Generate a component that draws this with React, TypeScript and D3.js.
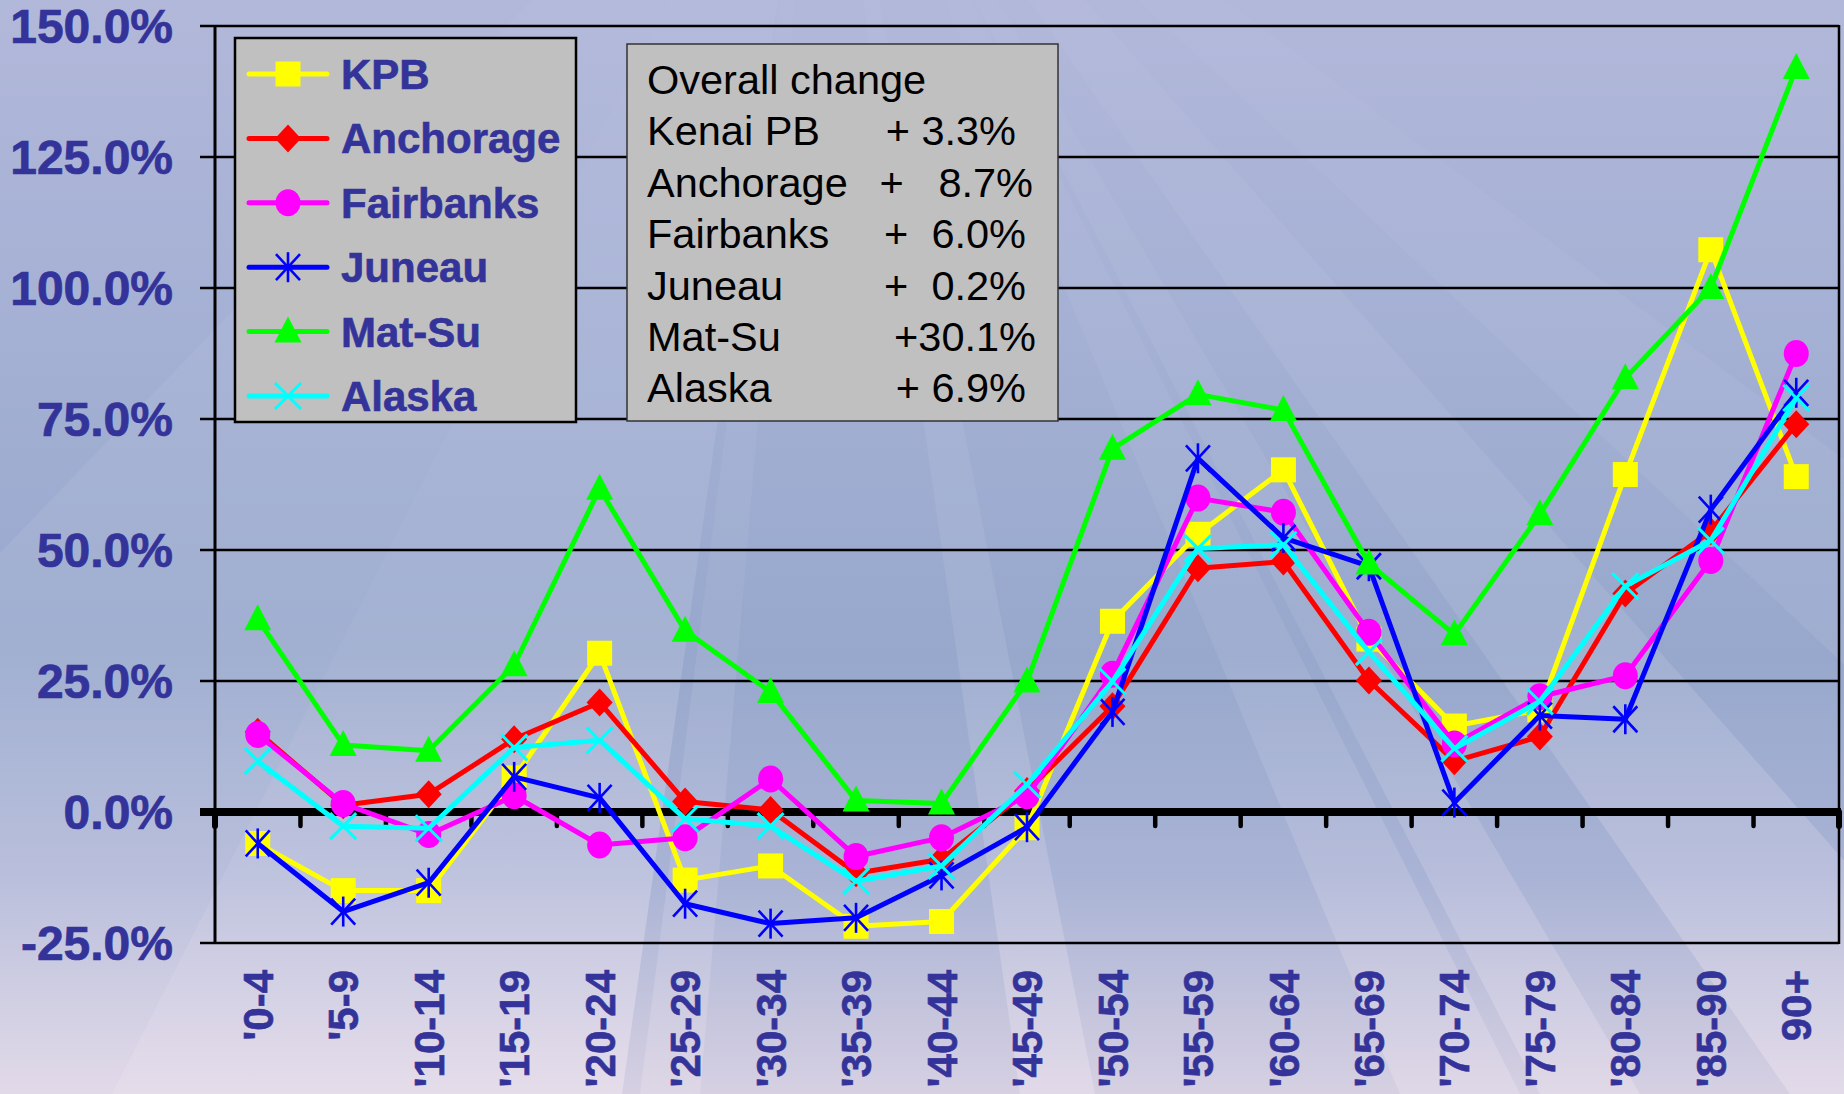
import React from 'react';
import * as d3 from 'd3';

const categories = ["'0-4", "'5-9", "'10-14", "'15-19", "'20-24", "'25-29", "'30-34", "'35-39", "'40-44", "'45-49", "'50-54", "'55-59", "'60-64", "'65-69", "'70-74", "'75-79", "'80-84", "'85-90", "90+"];

const kpb = [-6.0, -15.0, -15.0, 6.5, 30.3, -13.0, -10.3, -21.8, -20.9, -3.0, 36.4, 53.0, 65.3, 33.0, 16.4, 19.5, 64.4, 107.3, 64.0];
const anchorage = [15.3, 1.3, 3.4, 13.9, 20.9, 2.0, 0.4, -11.7, -9.0, 4.0, 20.2, 46.5, 47.8, 25.1, 9.7, 14.4, 41.7, 53.6, 74.0];
const fairbanks = [14.8, 1.6, -4.3, 3.1, -6.3, -4.9, 6.3, -8.5, -4.9, 3.1, 26.3, 59.9, 57.2, 34.3, 13.0, 22.0, 26.0, 48.0, 87.5];
const juneau = [-6.0, -19.0, -13.5, 6.7, 2.7, -17.5, -21.3, -20.2, -12.1, -2.9, 19.1, 67.5, 52.3, 46.9, 1.8, 18.4, 17.7, 57.7, 80.0];
const matsu = [36.8, 12.8, 11.7, 28.0, 61.7, 34.6, 22.9, 2.2, 1.6, 24.9, 69.3, 79.7, 76.7, 47.4, 33.9, 56.8, 82.8, 100.0, 142.0];
const alaska = [9.7, -2.7, -3.1, 12.3, 13.7, -1.3, -2.7, -13.2, -10.3, 5.2, 24.9, 50.3, 51.0, 30.5, 12.1, 21.1, 43.1, 51.8, 79.0];

const seriesNames = ["KPB", "Anchorage", "Fairbanks", "Juneau", "Mat-Su", "Alaska"];
const seriesValues = [kpb, anchorage, fairbanks, juneau, matsu, alaska];
const seriesColors = ["#ffff00", "#ff0000", "#ff00ff", "#0000ff", "#00ff00", "#00ffff"];
const seriesMarkers = ["square", "diamond", "circle", "star", "triangle", "x"];

const yTicks = [-25, 0, 25, 50, 75, 100, 125, 150];

const overallTitle = "Overall change";
const overallNames = ["Kenai PB", "Anchorage", "Fairbanks", "Juneau", "Mat-Su", "Alaska"];
const overallValues = ["+ 3.3%", "+   8.7%", "+  6.0%", "+  0.2%", "+30.1%", "+ 6.9%"];

// layout
const W = 1844, H = 1094;
const PL = 215, PR = 1839, PT = 26, PB = 943;
const LABEL_BLUE = "#333399";
const FONT = "'Liberation Sans', Arial, Helvetica, sans-serif";
const valueEndX = [1016, 1033, 1026, 1026, 1036, 1026];
const rayApex = [820, -300];
const rays: [number, number, number][] = [
  [-520, 112, 0.55], [112, 622, 0.75], [640, 700, 0.4], [1020, 1095, 0.55],
  [1400, 1520, 0.45], [1540, 1640, 0.5], [1790, 2050, 0.6], [2300, 2700, 0.45],
];

function Marker({ type, color, x, y }: { type: string; color: string; x: number; y: number }) {
  const s = 12.5;
  switch (type) {
    case 'square':
      return <rect x={x - s} y={y - s} width={2 * s} height={2 * s} fill={color} />;
    case 'diamond':
      return <path d={`M${x},${y - 14}L${x + 13},${y}L${x},${y + 14}L${x - 13},${y}Z`} fill={color} />;
    case 'circle':
      return <ellipse cx={x} cy={y} rx={12.5} ry={13.5} fill={color} />;
    case 'triangle':
      return <path d={`M${x},${y - 15}L${x + 13.5},${y + 11}L${x - 13.5},${y + 11}Z`} fill={color} />;
    case 'star':
      return (
        <g stroke={color} strokeWidth={2.6}>
          <line x1={x - 12} y1={y - 13} x2={x + 12} y2={y + 13} />
          <line x1={x - 12} y1={y + 13} x2={x + 12} y2={y - 13} />
          <line x1={x} y1={y - 15} x2={x} y2={y + 15} />
        </g>
      );
    case 'x':
    default:
      return (
        <g stroke={color} strokeWidth={3}>
          <line x1={x - 13} y1={y - 13} x2={x + 13} y2={y + 13} />
          <line x1={x - 13} y1={y + 13} x2={x + 13} y2={y - 13} />
        </g>
      );
  }
}

export default function App() {
  const xBand = d3.scaleBand<string>().domain(categories).range([PL, PR]).paddingInner(0).paddingOuter(0);
  const bw = xBand.bandwidth();
  const xc = (c: string) => (xBand(c) as number) + bw / 2;
  const y = d3.scaleLinear().domain([-25, 150]).range([PB, PT]);
  const line = d3.line<number>().x((_, i) => xc(categories[i])).y((d) => y(d));

  const y0 = y(0);
  const boundaries = d3.range(categories.length + 1).map((i) => PL + i * bw);

  const rayPolys = rays.map(([a, b, o], i) => {
    const [ax, ay] = rayApex;
    return { pts: `${ax},${ay} ${a},${H} ${b},${H}`, o, i };
  });

  const legendRowY = (i: number) => 74 + i * 64.4;
  const statRowY = (i: number) => 94 + i * 51.4;

  return (
    <svg width={W} height={H} style={{ position: 'absolute', left: 0, top: 0, display: 'block' }} xmlns="http://www.w3.org/2000/svg">
      <defs>
        <linearGradient id="bg" x1="0" y1="0" x2="0" y2="1">
          <stop offset="0" stopColor="#b2b8da" />
          <stop offset="0.35" stopColor="#a2afd3" />
          <stop offset="0.6" stopColor="#97a8cc" />
          <stop offset="0.8" stopColor="#a9b3d5" />
          <stop offset="1" stopColor="#d6d0e2" />
        </linearGradient>
        <linearGradient id="ray" gradientUnits="userSpaceOnUse" x1="0" y1="0" x2="0" y2={H}>
          <stop offset="0" stopColor="#ffffff" stopOpacity="0.04" />
          <stop offset="0.55" stopColor="#f4eef8" stopOpacity="0.16" />
          <stop offset="1" stopColor="#fff2f8" stopOpacity="0.5" />
        </linearGradient>
      </defs>
      <rect x={0} y={0} width={W} height={H} fill="url(#bg)" />
      {rayPolys.map((r) => (
        <polygon key={r.i} points={r.pts} fill="url(#ray)" opacity={r.o} />
      ))}

      {/* gridlines */}
      {yTicks.map((t) => (
        <line key={t} x1={200} x2={PR} y1={y(t)} y2={y(t)} stroke="#000" strokeWidth={t === 0 ? 0 : 2.6} />
      ))}
      {/* y axis */}
      <line x1={PL} x2={PL} y1={PT - 1} y2={PB + 1} stroke="#000" strokeWidth={3} />
      <line x1={PR} x2={PR} y1={PT - 1} y2={PB + 1} stroke="#000" strokeWidth={2.5} />
      {/* zero axis */}
      <line x1={200} x2={PR + 2} y1={y0} y2={y0} stroke="#000" strokeWidth={8} />
      {boundaries.map((bx, i) => (
        <line key={i} x1={bx} x2={bx} y1={y0} y2={y0 + 14} stroke="#000" strokeWidth={i === 0 || i === categories.length ? 6 : 4.5} strokeLinecap="round" />
      ))}

      {/* y tick labels */}
      {yTicks.map((t) => (
        <text key={t} x={173} y={y(t)} textAnchor="end" dy="0.36em"
          fontFamily={FONT} fontWeight="bold" fontSize={48} fill={LABEL_BLUE} stroke={LABEL_BLUE} strokeWidth={0.7}>
          {t.toFixed(1) + '%'}
        </text>
      ))}

      {/* x labels */}
      {categories.map((c) => (
        <text key={c} transform={`translate(${xc(c)},970) rotate(-90)`} textAnchor="end" dy="0.36em"
          fontFamily={FONT} fontWeight="bold" fontSize={42} fill={LABEL_BLUE} stroke={LABEL_BLUE} strokeWidth={0.6}>
          {c}
        </text>
      ))}

      {/* series */}
      {seriesValues.map((vals, si) => (
        <g key={si}>
          <path d={line(vals) as string} fill="none" stroke={seriesColors[si]} strokeWidth={5} strokeLinejoin="round" />
          {vals.map((v, i) => (
            <Marker key={i} type={seriesMarkers[si]} color={seriesColors[si]} x={xc(categories[i])} y={y(v)} />
          ))}
        </g>
      ))}

      {/* legend */}
      <rect x={235} y={38} width={341} height={384} fill="#c0c0c0" stroke="#000" strokeWidth={2.5} />
      {seriesNames.map((n, i) => (
        <g key={n}>
          <line x1={249} x2={327} y1={legendRowY(i)} y2={legendRowY(i)} stroke={seriesColors[i]} strokeWidth={5} strokeLinecap="round" />
          <Marker type={seriesMarkers[i]} color={seriesColors[i]} x={288} y={legendRowY(i)} />
          <text x={341} y={legendRowY(i) + 15} fontFamily={FONT} fontWeight="bold" fontSize={42} fill={LABEL_BLUE} stroke={LABEL_BLUE} strokeWidth={0.6}>{n}</text>
        </g>
      ))}

      {/* overall change box */}
      <rect x={627} y={44} width={431} height={377} fill="#c0c0c0" stroke="#333" strokeWidth={1.5} />
      <text x={647} y={statRowY(0)} fontFamily={FONT} fontSize={41.5} fill="#000">{overallTitle}</text>
      {overallNames.map((n, i) => (
        <g key={n}>
          <text x={647} y={statRowY(i + 1)} fontFamily={FONT} fontSize={41.5} fill="#000">{n}</text>
          <text x={valueEndX[i]} y={statRowY(i + 1)} textAnchor="end" fontFamily={FONT} fontSize={41.5} fill="#000" style={{ whiteSpace: 'pre' }} xmlSpace="preserve">{overallValues[i]}</text>
        </g>
      ))}
    </svg>
  );
}
